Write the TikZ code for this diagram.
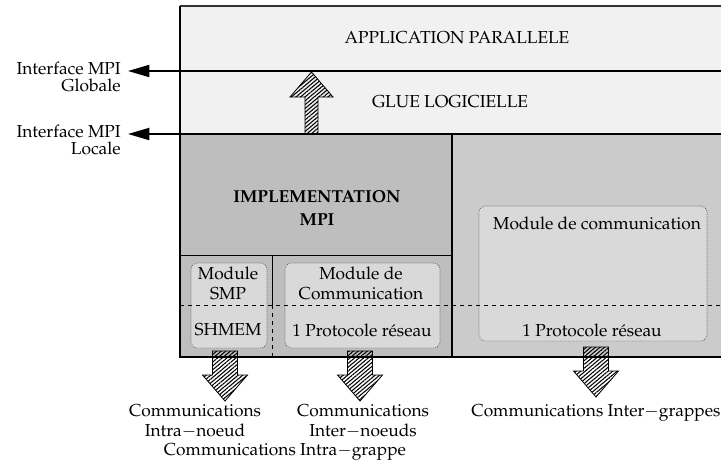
\documentclass[tikz,border=0pt]{standalone}
\usepackage[T1]{fontenc}
\usepackage{mathpazo}
\usetikzlibrary{patterns.meta,arrows.meta,fit}

\definecolor{toplayer}{gray}{0.945}
\definecolor{implgray}{gray}{0.745}
\definecolor{gridgray}{gray}{0.795}
\definecolor{modgray}{gray}{0.85}

\tikzset{
  region/.style={inner sep=0pt, outer sep=0pt, draw=none},
  modbox/.style={inner sep=0pt, outer sep=0pt, draw=black!75, densely dotted,
    rounded corners=5pt, fill=modgray, line width=0.5pt},
  label/.style={inner sep=0pt, align=center},
  flowlabel/.style={label, font=\fontsize{13}{15}\selectfont},
  sidelabel/.style={inner sep=0pt, align=right, anchor=east},
  frame/.style={line width=1.5pt},
  thinrule/.style={line width=0.6pt},
  hatched/.style={draw=black, line width=0.6pt,
    pattern={Lines[angle=40,distance=2.2pt,line width=0.8pt]}},
  interface/.style={line width=1.5pt, -{Triangle[length=16pt,width=9pt]}},
  pics/downarrow/.style={code={
    \path[hatched] (-12.5,0) -- (12.5,0) -- (12.5,24) -- (22.5,24)
      -- (0,50) -- (-22.5,24) -- (-12.5,24) -- cycle;}},
  pics/uparrow/.style={code={
    \path[hatched] (-6.5,0) -- (6.5,0) -- (6.5,-37) -- (21.5,-37)
      -- (0,-62) -- (-21.5,-37) -- (-6.5,-37) -- cycle;}},
}

\begin{document}
\begin{tikzpicture}[x=0.75pt,y=-0.75pt,font=\fontsize{13}{13}\selectfont]
\useasboundingbox (0,0) rectangle (721,464);
\begin{scope}
\clip (0,0) rectangle (721,464);

% stacked layers
\node[region, fill=toplayer, fit={(180,6) (740,71)}] (app) {};
\node[region, fill=toplayer, fit={(180,71) (740,134)}] (glue) {};
\node[region, fill=implgray, fit={(180,134) (452,357)}] (impl) {};
\node[region, fill=gridgray, fit={(452,134) (740,357)}] (grid) {};

% split of the MPI implementation
\draw[thinrule] (impl.west |- 0,255) -- (impl.east |- 0,255);
\coordinate (split) at (272,255);
\draw[thinrule] (split) -- (272,305);
\draw[thinrule, dashed] (272,305) -- (impl.south -| split);

% communication modules
\node[modbox, fit={(191,263) (267,348)}] (smp) {};
\node[modbox, fit={(285,263) (440,348)}] (comm) {};
\node[modbox, fit={(479,206) (707,341)}] (gcomm) {};

% protocol boundary
\draw[thinrule, dashed] (impl.west |- 0,305) -- (grid.east |- 0,305);

% frame
\draw[line width=0.8pt, black!80] (app.north west) -- (app.north east);
\draw[frame] (app.north west) -- (impl.south west) -- (grid.south east);
\draw[frame] (app.south west) -- (app.south east);
\draw[frame] (glue.south west) -- (glue.south east);
\draw[frame] (impl.north east) -- (impl.south east);

% texts
\node[label] (tapp) at (457,38) {APPLICATION PARALLELE};
\node[label] (tglue) at (450,102) {GLUE LOGICIELLE};
\node[label, font=\fontsize{13}{17}\selectfont\bfseries] (timpl) at (317,208) {IMPLEMENTATION\\MPI};
\node[label, font=\fontsize{13}{15}\selectfont] (tsmp) at (228,283) {Module\\SMP};
\node[label] (tshmem) at (228,330) {SHMEM};
\node[label, font=\fontsize{13}{15}\selectfont] (tcomm) at (361,283) {Module de\\Communication};
\node[label] (tproto) at (362,330) {1 Protocole réseau};
\node[label] (tgcomm) at (597,223) {Module de communication};
\node[label] (tgproto) at (592,330) {1 Protocole réseau};

% MPI interfaces
\coordinate (globtip) at (128,71);
\coordinate (loctip) at (128,134);
\draw[interface] (app.south west) -- (globtip);
\draw[interface] (glue.south west) -- (loctip);
\node[sidelabel] (iglob) at (121,77) {Interface MPI\\Globale};
\node[sidelabel] (iloc) at (121,140) {Interface MPI\\Locale};

% data flows
\pic at (311.5,134) {uparrow};
\pic at (225,351) {downarrow};
\pic at (360,351) {downarrow};
\pic at (596,347) {downarrow};

\node[flowlabel] (lintra) at (195,421) {Communications\\Intra$-$noeud};
\node[flowlabel] (linter) at (363,421) {Communications\\Inter$-$noeuds};
\node[flowlabel] (lgrappe) at (285,452) {Communications Intra$-$grappe};
\node[flowlabel] (lgrappes) at (596,413) {Communications Inter$-$grappes};
\end{scope}
\end{tikzpicture}
\end{document}
